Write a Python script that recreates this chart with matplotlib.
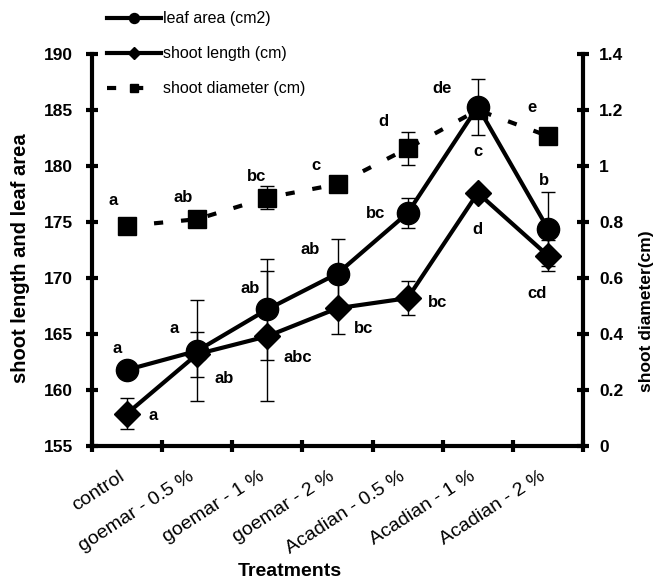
import matplotlib
matplotlib.use("Agg")
import matplotlib.pyplot as plt
import matplotlib.transforms as mtransforms
import numpy as np

plt.rcParams['font.family'] = ['Liberation Sans', 'DejaVu Sans']

#%% datos
tratamientos = ['control', 'goemar - 0.5 %', 'goemar - 1 %', 'goemar - 2 %',
                'Acadian - 0.5 %', 'Acadian - 1 %', 'Acadian - 2 %']

area_hoja = [161.8, 163.5, 167.2, 170.4, 175.8, 185.3, 174.4]
err_area = [0.3, 4.5, 4.5, 3.1, 1.3, 2.5, 3.3]
letras_area = ['a', 'a', 'ab', 'ab', 'bc', 'c', 'b']

largo_tallo = [157.9, 163.2, 164.8, 167.3, 168.2, 177.6, 172.0]
err_largo = [1.4, 2.0, 5.8, 2.3, 1.5, 0.4, 1.4]
letras_largo = ['a', 'ab', 'abc', 'bc', 'bc', 'd', 'cd']

diametro = [0.786, 0.81, 0.887, 0.935, 1.063, 1.2, 1.107]
err_diam = [0.01, 0.02, 0.04, 0.02, 0.06, 0.02, 0.02]
letras_diam = ['a', 'ab', 'bc', 'c', 'd', 'de', 'e']

ticks_izq = [155, 160, 165, 170, 175, 180, 185, 190]
ticks_der = [0, 0.2, 0.4, 0.6, 0.8, 1, 1.2, 1.4]
etiq_der = ['0', '0.2', '0.4', '0.6', '0.8', '1', '1.2', '1.4']

#%% figura
fig = plt.figure(figsize=(6.59, 5.82), dpi=100)
ax = fig.add_axes([0.1396, 0.2337, 0.8847 - 0.1396, 0.9072 - 0.2337])
ax2 = ax.twinx()

x = np.arange(len(tratamientos))

l1 = ax.errorbar(x, area_hoja, yerr=err_area, color='k', lw=3, marker='o', ms=16,
                 ecolor='k', elinewidth=1, capsize=5, capthick=1, label='leaf area (cm2)', zorder=3)
l2 = ax.errorbar(x, largo_tallo, yerr=err_largo, color='k', lw=3, marker='D', ms=13,
                 ecolor='k', elinewidth=1, capsize=5, capthick=1, label='shoot length (cm)', zorder=3)
l3 = ax2.errorbar(x, diametro, yerr=err_diam, color='k', lw=3, ls=(0, (2.2, 4.3)), marker='s', ms=13,
                  ecolor='k', elinewidth=1, capsize=5, capthick=1, label='shoot diameter (cm)')

# letras
off_area = [(-10, 21), (-23, 22), (-17, 21), (-27, 24), (-32, 0), (0, -45), (-4, 48)]
off_largo = [(26, -2), (27, -24), (30, -21), (26, -20), (30, -4), (0, -37), (-11, -38)]
off_diam = [(-14, 25), (-14, 22), (-11, 21), (-22, 19), (-24, 27), (-36, 22), (-16, 29)]

for i in range(len(x)):
    ax.annotate(letras_area[i], (x[i], area_hoja[i]), xytext=off_area[i], textcoords='offset pixels',
                ha='center', va='center', fontsize=12, fontweight='bold')
    ax.annotate(letras_largo[i], (x[i], largo_tallo[i]), xytext=off_largo[i], textcoords='offset pixels',
                ha='center', va='center', fontsize=12, fontweight='bold')
    ax2.annotate(letras_diam[i], (x[i], diametro[i]), xytext=off_diam[i], textcoords='offset pixels',
                 ha='center', va='center', fontsize=12, fontweight='bold')

# ejes
ax.set_xlim(-0.5, len(x) - 0.5)
ax.set_ylim(155, 190)
ax2.set_ylim(0, 1.4)
ax.set_yticks(ticks_izq)
ax.set_yticklabels([str(t) for t in ticks_izq])
ax2.set_yticks(ticks_der)
ax2.set_yticklabels(etiq_der)

ax.set_xticks(np.arange(-0.5, len(x)), minor=False)
ax.set_xticklabels([], minor=False)
ax.set_xticks(x, minor=True)
ax.set_xticklabels(tratamientos, minor=True, rotation=33, ha='right', va='top',
                   rotation_mode='anchor', fontsize=14)
ax.tick_params(axis='x', which='minor', length=0, pad=16)
ax.tick_params(axis='x', which='major', direction='inout', length=9, width=3)
ax.tick_params(axis='y', direction='inout', length=9, width=3, labelsize=12.5, pad=9)
ax2.tick_params(axis='y', direction='inout', length=9, width=3, labelsize=12.5, pad=7)
for lab in ax.get_yticklabels() + ax2.get_yticklabels():
    lab.set_fontweight('bold')
for lab in ax.get_xticklabels(minor=True):
    lab.set_transform(lab.get_transform() + mtransforms.ScaledTranslation(-0.09, 0, fig.dpi_scale_trans))

for a in (ax, ax2):
    a.spines['top'].set_visible(False)
    for s in ('left', 'right', 'bottom'):
        a.spines[s].set_linewidth(3)
ax.spines['right'].set_visible(False)
ax2.spines['left'].set_visible(False)
ax2.spines['bottom'].set_visible(False)

ax.set_ylabel('shoot length and leaf area', fontsize=14.5, fontweight='bold')
ax.yaxis.set_label_coords(-0.126, 0.48)
ax2.set_ylabel('shoot diameter(cm)', fontsize=12.5, fontweight='bold', rotation=90)
ax2.yaxis.set_label_coords(1.114, 0.345)
ax.set_xlabel('Treatments', fontsize=14, fontweight='bold')
ax.xaxis.set_label_coords(0.403, -0.298)

fig.legend(handles=[l1[0], l2[0], l3[0]], labels=['leaf area (cm2)', 'shoot length (cm)', 'shoot diameter (cm)'],
           loc='upper left', bbox_to_anchor=(0.14, 1.005), frameon=False,
           fontsize=11.5, markerscale=0.45, handlelength=3.4, handletextpad=0.1, labelspacing=1.25)

fig.savefig('out.png', dpi=100)
